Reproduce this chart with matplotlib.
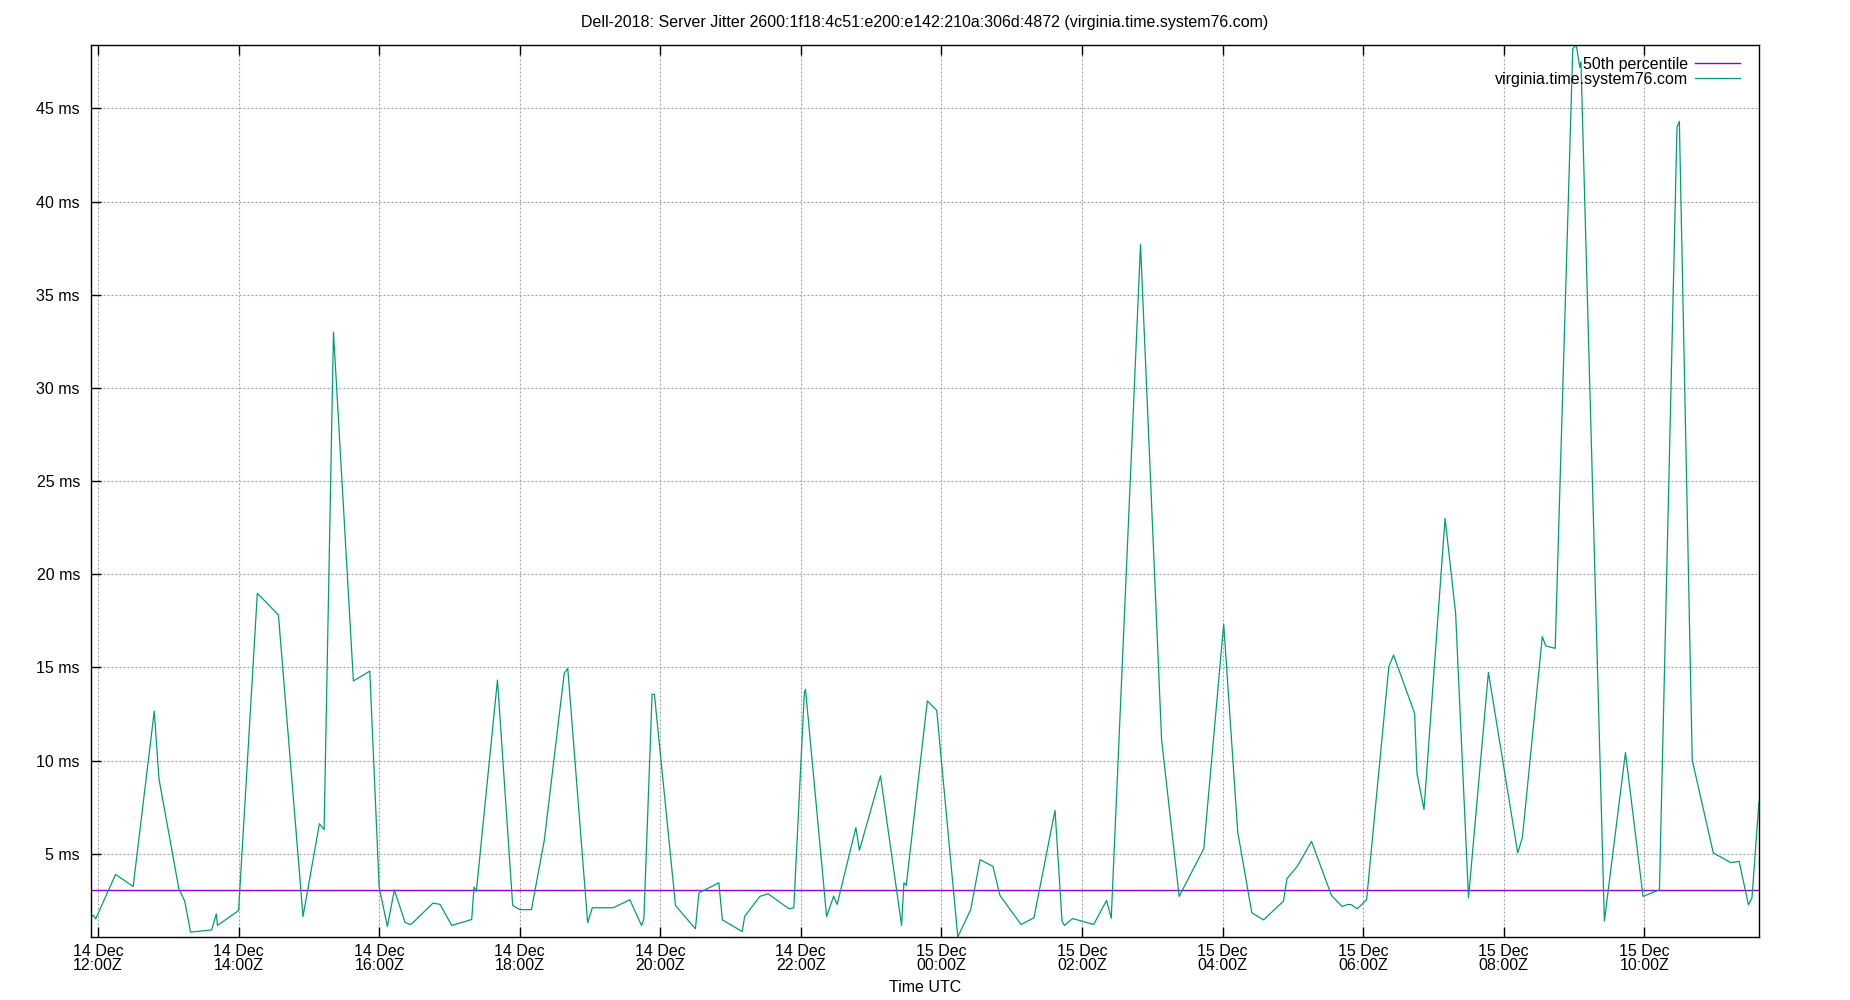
import numpy as np
import pandas as pd
import matplotlib
matplotlib.use("Agg")
import matplotlib.pyplot as plt
import matplotlib.dates as mdates
from matplotlib.ticker import FuncFormatter

plt.rcParams['font.family'] = ['Liberation Sans', 'DejaVu Sans']
plt.rcParams['font.size'] = 11.5

title = "Dell-2018: Server Jitter 2600:1f18:4c51:e200:e142:210a:306d:4872 (virginia.time.system76.com)"
server_name = "virginia.time.system76.com"
median_label = "50th percentile"
median_ms = 3.06

# sample times (UTC) and jitter in ms
times = [
    "2018-12-14 11:54", "2018-12-14 11:56", "2018-12-14 11:58", "2018-12-14 12:15",
    "2018-12-14 12:30", "2018-12-14 12:48", "2018-12-14 12:52", "2018-12-14 13:09",
    "2018-12-14 13:14", "2018-12-14 13:19", "2018-12-14 13:37", "2018-12-14 13:41",
    "2018-12-14 13:42", "2018-12-14 14:00", "2018-12-14 14:16", "2018-12-14 14:34",
    "2018-12-14 14:55", "2018-12-14 15:09", "2018-12-14 15:13", "2018-12-14 15:21",
    "2018-12-14 15:38", "2018-12-14 15:52", "2018-12-14 16:00", "2018-12-14 16:07",
    "2018-12-14 16:13", "2018-12-14 16:22", "2018-12-14 16:26", "2018-12-14 16:28",
    "2018-12-14 16:46", "2018-12-14 16:52", "2018-12-14 17:02", "2018-12-14 17:19",
    "2018-12-14 17:21", "2018-12-14 17:23", "2018-12-14 17:41", "2018-12-14 17:54",
    "2018-12-14 18:00", "2018-12-14 18:10", "2018-12-14 18:21", "2018-12-14 18:38",
    "2018-12-14 18:41", "2018-12-14 18:58", "2018-12-14 19:02", "2018-12-14 19:20",
    "2018-12-14 19:34", "2018-12-14 19:44", "2018-12-14 19:46", "2018-12-14 19:53",
    "2018-12-14 19:55", "2018-12-14 20:13", "2018-12-14 20:30", "2018-12-14 20:33",
    "2018-12-14 20:50", "2018-12-14 20:53", "2018-12-14 21:10", "2018-12-14 21:12",
    "2018-12-14 21:25", "2018-12-14 21:32", "2018-12-14 21:50", "2018-12-14 21:54",
    "2018-12-14 22:03", "2018-12-14 22:04", "2018-12-14 22:22", "2018-12-14 22:28",
    "2018-12-14 22:31", "2018-12-14 22:47", "2018-12-14 22:50", "2018-12-14 23:08",
    "2018-12-14 23:26", "2018-12-14 23:28", "2018-12-14 23:30", "2018-12-14 23:48",
    "2018-12-14 23:56", "2018-12-15 00:14", "2018-12-15 00:25", "2018-12-15 00:33",
    "2018-12-15 00:44", "2018-12-15 00:50", "2018-12-15 01:08", "2018-12-15 01:19",
    "2018-12-15 01:37", "2018-12-15 01:43", "2018-12-15 01:45", "2018-12-15 01:52",
    "2018-12-15 02:10", "2018-12-15 02:21", "2018-12-15 02:25", "2018-12-15 02:50",
    "2018-12-15 03:08", "2018-12-15 03:23", "2018-12-15 03:44", "2018-12-15 04:01",
    "2018-12-15 04:13", "2018-12-15 04:25", "2018-12-15 04:35", "2018-12-15 04:52",
    "2018-12-15 04:55", "2018-12-15 05:04", "2018-12-15 05:16", "2018-12-15 05:33",
    "2018-12-15 05:42", "2018-12-15 05:47", "2018-12-15 05:50", "2018-12-15 05:55",
    "2018-12-15 06:03", "2018-12-15 06:22", "2018-12-15 06:26", "2018-12-15 06:44",
    "2018-12-15 06:46", "2018-12-15 06:52", "2018-12-15 07:10", "2018-12-15 07:19",
    "2018-12-15 07:30", "2018-12-15 07:47", "2018-12-15 08:12", "2018-12-15 08:16",
    "2018-12-15 08:33", "2018-12-15 08:36", "2018-12-15 08:44", "2018-12-15 08:59",
    "2018-12-15 09:02", "2018-12-15 09:05", "2018-12-15 09:06", "2018-12-15 09:26",
    "2018-12-15 09:44", "2018-12-15 09:59", "2018-12-15 10:13", "2018-12-15 10:28",
    "2018-12-15 10:30", "2018-12-15 10:41", "2018-12-15 10:59", "2018-12-15 11:14",
    "2018-12-15 11:21", "2018-12-15 11:29", "2018-12-15 11:32", "2018-12-15 11:38",
]
jitter_ms = [
    1.6, 1.7, 1.5, 3.89,
    3.24, 12.65, 9.03, 3.12,
    2.46, 0.79, 0.91, 1.77,
    1.15, 1.95, 18.98, 17.81,
    1.63, 6.61, 6.29, 33.0,
    14.27, 14.8, 3.21, 1.09,
    3.06, 1.33, 1.2, 1.25,
    2.35, 2.28, 1.15, 1.47,
    3.21, 2.99, 14.32, 2.22,
    2.0, 2.0, 5.72, 14.68,
    14.95, 1.29, 2.1, 2.1,
    2.53, 1.15, 1.5, 13.55,
    13.55, 2.22, 0.97, 2.9,
    3.44, 1.45, 0.82, 1.63,
    2.71, 2.85, 2.04, 2.1,
    13.64, 13.82, 1.63, 2.72,
    2.28, 6.4, 5.18, 9.18,
    1.15, 3.44, 3.3, 13.2,
    12.7, 0.53, 2.0, 4.68,
    4.32, 2.76, 1.2, 1.56,
    7.33, 1.38, 1.15, 1.52,
    1.2, 2.49, 1.54, 37.7,
    11.1, 2.71, 5.27, 17.33,
    6.16, 1.83, 1.45, 2.45,
    3.66, 4.34, 5.66, 2.76,
    2.17, 2.28, 2.26, 2.04,
    2.53, 15.04, 15.66, 12.53,
    9.3, 7.37, 23.0, 17.9,
    2.63, 14.73, 5.04, 5.86,
    16.65, 16.15, 16.02, 48.2,
    48.4, 47.2, 47.5, 1.38,
    10.43, 2.71, 3.06, 44.0,
    44.3, 10.02, 5.04, 4.52,
    4.59, 2.26, 2.63, 7.8,
]

t = pd.to_datetime(times)
y = np.array(jitter_ms)

fig = plt.figure(figsize=(18.5, 10), dpi=100)
ax = fig.add_axes([91 / 1850, 63 / 1000, (1759 - 91) / 1850, (937 - 45) / 1000])

ax.axhline(median_ms, color="#9400d3", lw=1.0, label=median_label)
ax.plot(t, y, color="#009e73", lw=0.9, label=server_name)

ax.set_xlim(t[0], t[-1])
ax.set_ylim(y.min(), y.max())

ax.xaxis.set_major_locator(mdates.HourLocator(byhour=range(0, 24, 2)))
ax.xaxis.set_major_formatter(mdates.DateFormatter("%d %b\n%H:%MZ"))
ax.set_yticks(np.arange(5, 50, 5))
ax.yaxis.set_major_formatter(FuncFormatter(lambda v, p: "%d ms" % v))

ax.tick_params(direction="in", length=7, width=1, top=True, right=False)
ax.tick_params(axis="x", pad=5)
ax.tick_params(axis="y", pad=8)
for lab in ax.get_xticklabels():
    lab.set_linespacing(0.95)
for s in ax.spines.values():
    s.set_linewidth(1.0)

ax.grid(True, color="#a0a0a0", lw=0.8, linestyle=(0, (1.8, 1.8)))

fig.text(0.5, 0.978, title, ha="center", va="center")
fig.text(0.5, 0.013, "Time UTC", ha="center", va="center")

leg = ax.legend(loc="upper right", frameon=False, markerfirst=False,
                handlelength=2.8, handletextpad=0.45, labelspacing=0.0,
                borderaxespad=0, borderpad=0.3,
                bbox_to_anchor=(1 - 14 / 1668, 1 - 7 / 892))

fig.savefig("out.png", dpi=100)
